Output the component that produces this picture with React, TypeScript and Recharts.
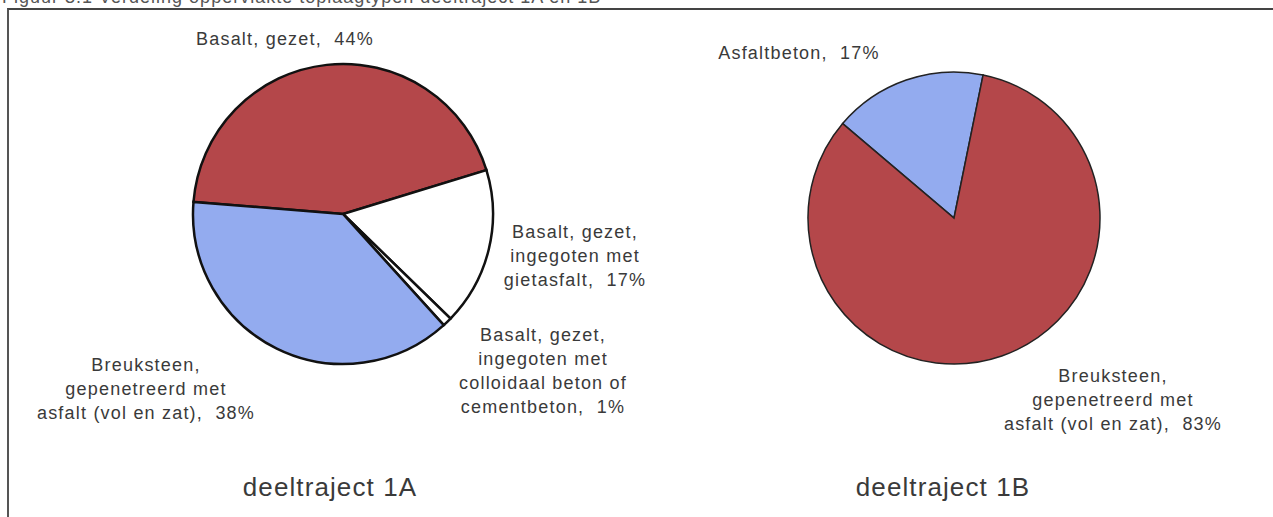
import { PieChart, Pie, Cell } from 'recharts'

// deeltraject 1A
const names1A = [
  'Basalt, gezet',
  'Basalt, gezet, ingegoten met gietasfalt',
  'Basalt, gezet, ingegoten met colloidaal beton of cementbeton',
  'Breuksteen, gepenetreerd met asfalt (vol en zat)',
]
const values1A = [44, 17, 1, 38]
const colors1A = ['#B4474A', '#FFFFFF', '#FFFFFF', '#93ABEF']

// deeltraject 1B
const names1B = ['Asfaltbeton', 'Breuksteen, gepenetreerd met asfalt (vol en zat)']
const values1B = [17, 83]
const colors1B = ['#93ABEF', '#B4474A']

const titles = ['deeltraject 1A', 'deeltraject 1B']

const data1A = names1A.map((name, i) => ({ name, value: values1A[i] }))
const data1B = names1B.map((name, i) => ({ name, value: values1B[i] }))

// label text blocks, line by line
const labelLines = [
  ['Basalt, gezet,  44%'],
  ['Basalt, gezet,', 'ingegoten met', 'gietasfalt,  17%'],
  ['Basalt, gezet,', 'ingegoten met', 'colloidaal beton of', 'cementbeton,  1%'],
  ['Breuksteen,', 'gepenetreerd met', 'asfalt (vol en zat),  38%'],
  ['Asfaltbeton,  17%'],
  ['Breuksteen,', 'gepenetreerd met', 'asfalt (vol en zat),  83%'],
]
// where each label block sits (centre x, first line centre y)
const labelPos = [
  { x: 285, y: 39 },
  { x: 575, y: 232 },
  { x: 543, y: 335 },
  { x: 146, y: 365 },
  { x: 799, y: 53 },
  { x: 1113, y: 376 },
]

const font = '"Liberation Sans", Arial, sans-serif'
const textColor = '#3a3a3a'

function TextBlock({ lines, x, y }: { lines: string[]; x: number; y: number }) {
  const lh = 24
  return (
    <div
      style={{
        position: 'absolute',
        left: x - 200,
        top: y - lh / 2,
        width: 400,
        textAlign: 'center',
        lineHeight: `${lh}px`,
        fontSize: 18,
        letterSpacing: 1.2,
        color: textColor,
        whiteSpace: 'pre',
      }}
    >
      {lines.map((l, i) => (
        <div key={i}>{l}</div>
      ))}
    </div>
  )
}

export default function App() {
  return (
    <div
      style={{
        position: 'absolute',
        left: 0,
        top: 0,
        width: 1273,
        height: 517,
        overflow: 'hidden',
        background: '#fff',
        fontFamily: font,
      }}
    >
      {/* caption above the frame, cut off at the top as in the scan */}
      <div
        style={{
          position: 'absolute',
          left: 2,
          top: -13,
          fontSize: 18,
          letterSpacing: 1,
          color: '#555',
          whiteSpace: 'nowrap',
        }}
      >
        Figuur 3.1 Verdeling oppervlakte toplaagtypen deeltraject 1A en 1B
      </div>
      {/* frame */}
      <div
        style={{
          position: 'absolute',
          left: 7,
          top: 8,
          width: 1264,
          height: 520,
          borderTop: '2px solid #444',
          borderLeft: '2px solid #555',
          borderRight: '1px solid #ccc',
        }}
      />
      <div style={{ position: 'absolute', left: 0, top: 0 }}>
        <PieChart width={1273} height={517}>
          <Pie
            data={data1A}
            dataKey="value"
            nameKey="name"
            cx={338}
            cy={209}
            outerRadius={150}
            startAngle={175.4}
            endAngle={-184.6}
            stroke="#111"
            strokeWidth={2.5}
            label={false}
            labelLine={false}
            isAnimationActive={false}
          >
            {data1A.map((d, i) => (
              <Cell key={d.name} fill={colors1A[i]} />
            ))}
          </Pie>
          <Pie
            data={data1B}
            dataKey="value"
            nameKey="name"
            cx={949}
            cy={213}
            outerRadius={146}
            startAngle={139.7}
            endAngle={-220.3}
            stroke="#222"
            strokeWidth={1.5}
            label={false}
            labelLine={false}
            isAnimationActive={false}
          >
            {data1B.map((d, i) => (
              <Cell key={d.name} fill={colors1B[i]} />
            ))}
          </Pie>
        </PieChart>
      </div>
      {labelLines.map((lines, i) => (
        <TextBlock key={i} lines={lines} x={labelPos[i].x} y={labelPos[i].y} />
      ))}
      {titles.map((t, i) => (
        <div
          key={t}
          style={{
            position: 'absolute',
            left: (i === 0 ? 330 : 943) - 150,
            top: 472,
            width: 300,
            textAlign: 'center',
            fontSize: 26,
            lineHeight: '30px',
            letterSpacing: 1.1,
            color: textColor,
          }}
        >
          {t}
        </div>
      ))}
    </div>
  )
}
